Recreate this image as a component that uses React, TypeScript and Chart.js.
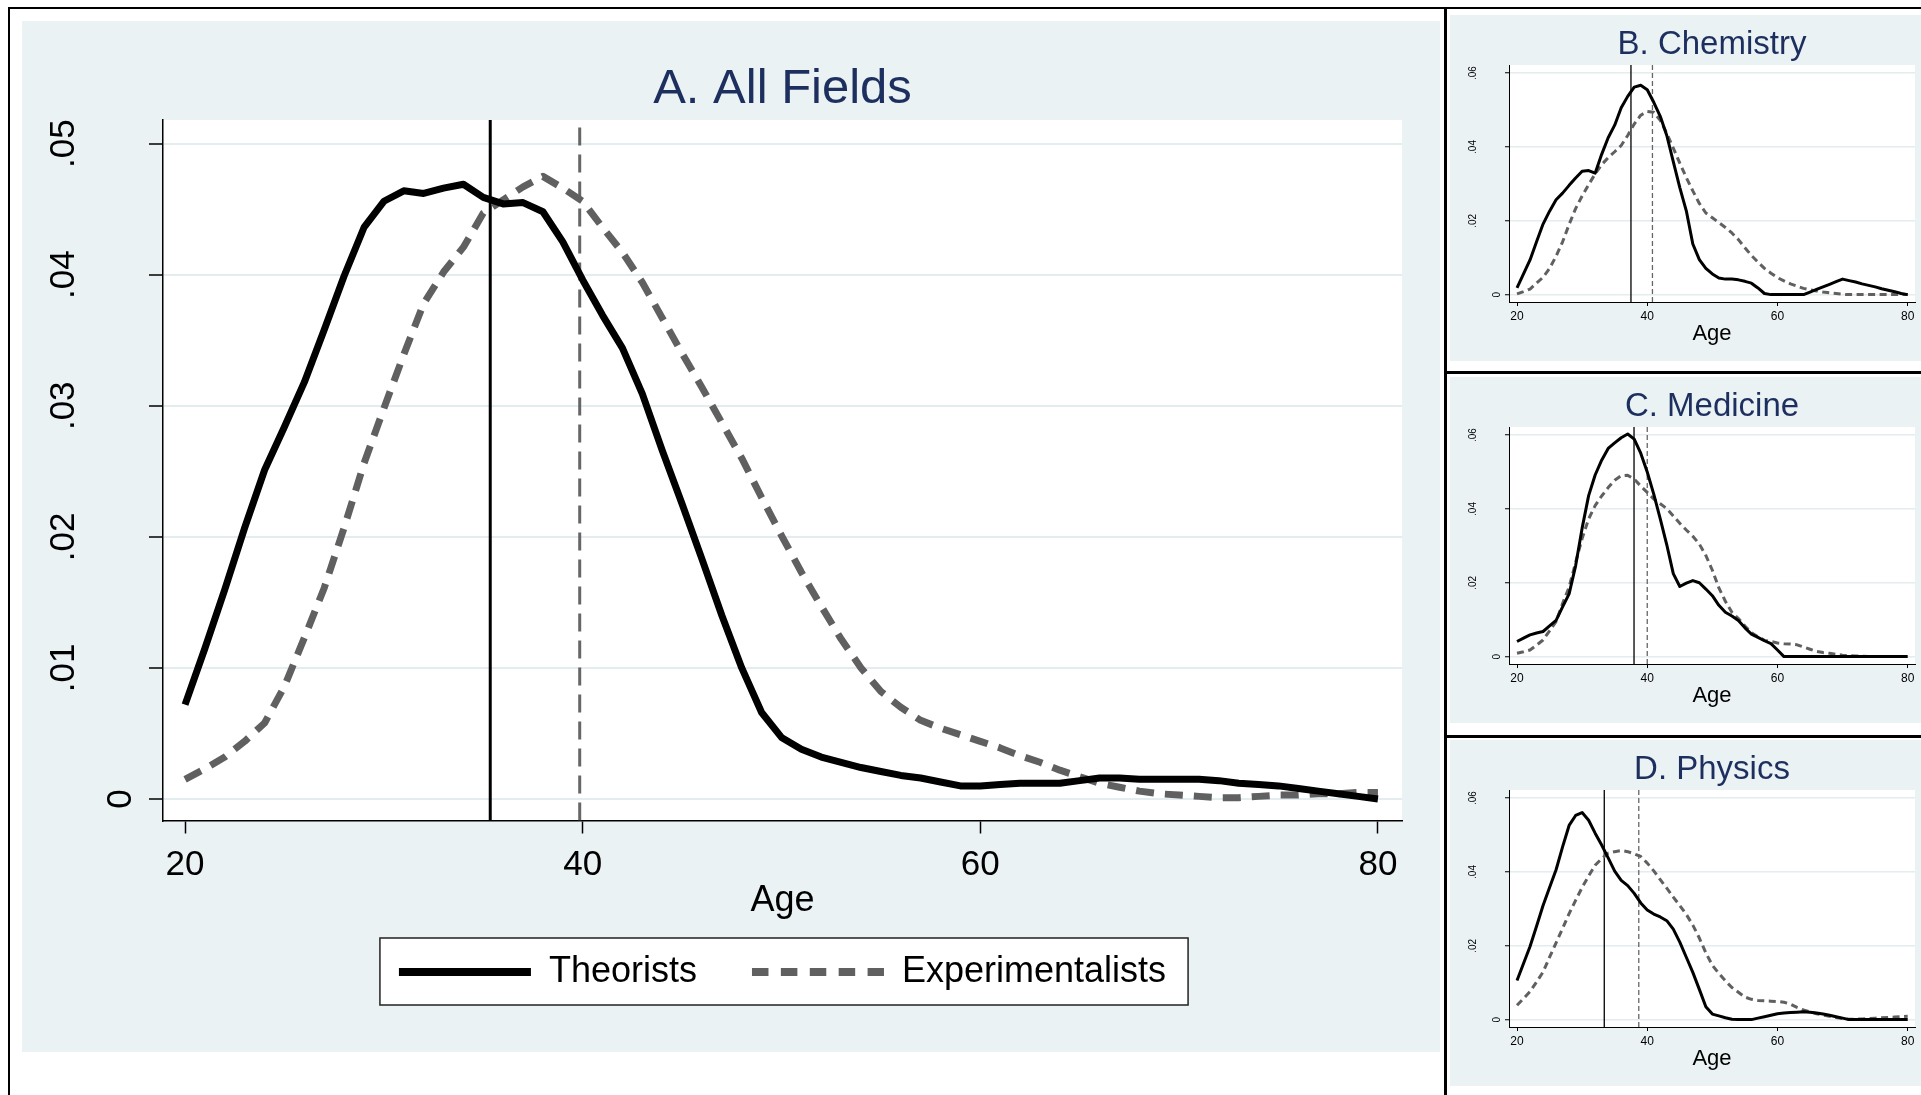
import React, { useEffect, useRef } from 'react';
import { Chart, registerables } from 'chart.js';

Chart.register(...registerables);

const FONT = "'Liberation Sans', Arial, Helvetica, sans-serif";
Chart.defaults.font.family = FONT;

const NAVY = '#1d2f5e';
const BG = '#eaf2f3';
const GRID = '#e3ecee';
const GRAY = '#606060';

// ---------- data ----------
const ages = [
  20, 21, 22, 23, 24, 25, 26, 27, 28, 29,
  30, 31, 32, 33, 34, 35, 36, 37, 38, 39,
  40, 41, 42, 43, 44, 45, 46, 47, 48, 49,
  50, 51, 52, 53, 54, 55, 56, 57, 58, 59,
  60, 61, 62, 63, 64, 65, 66, 67, 68, 69,
  70, 71, 72, 73, 74, 75, 76, 77, 78, 79, 80,
];

const allTheorists = [
  0.0072, 0.0115, 0.0160, 0.0207, 0.0251, 0.0284, 0.0318, 0.0358, 0.0399, 0.0436,
  0.0456, 0.0464, 0.0462, 0.0466, 0.0469, 0.0459, 0.0454, 0.0455, 0.0448, 0.0425,
  0.0396, 0.0369, 0.0344, 0.0309, 0.0266, 0.0225, 0.0183, 0.0140, 0.0100, 0.0066,
  0.0047, 0.0038, 0.0032, 0.0028, 0.0024, 0.0021, 0.0018, 0.0016, 0.0013, 0.0010,
  0.0010, 0.0011, 0.0012, 0.0012, 0.0012, 0.0014, 0.0016, 0.0016, 0.0015, 0.0015,
  0.0015, 0.0015, 0.0014, 0.0012, 0.0011, 0.0010, 0.0008, 0.0006, 0.0004, 0.0002, 0.0000,
];
const allExperimentalists = [
  0.0015, 0.0023, 0.0032, 0.0044, 0.0058, 0.0086, 0.0123, 0.0161, 0.0207, 0.0256,
  0.0298, 0.0339, 0.0378, 0.0402, 0.0421, 0.0447, 0.0457, 0.0467, 0.0475, 0.0466,
  0.0456, 0.0436, 0.0417, 0.0394, 0.0367, 0.0340, 0.0314, 0.0287, 0.0260, 0.0230,
  0.0201, 0.0173, 0.0147, 0.0122, 0.0100, 0.0082, 0.0070, 0.0060, 0.0054, 0.0049,
  0.0044, 0.0039, 0.0033, 0.0028, 0.0022, 0.0017, 0.0012, 0.0009, 0.0006, 0.0004,
  0.0003, 0.0002, 0.0001, 0.0001, 0.0002, 0.0003, 0.0003, 0.0004, 0.0004, 0.0005, 0.0005,
];
const allMeans = [35.35, 39.85];

const chemTheorists = [
  0.0018, 0.0056, 0.0094, 0.0143, 0.0191, 0.0226, 0.0257, 0.0275, 0.0296, 0.0316,
  0.0334, 0.0336, 0.0329, 0.0380, 0.0425, 0.0459, 0.0506, 0.0537, 0.0562, 0.0567,
  0.0555, 0.0521, 0.0483, 0.0431, 0.0360, 0.0290, 0.0227, 0.0137, 0.0095, 0.0071,
  0.0056, 0.0045, 0.0042, 0.0042, 0.0040, 0.0036, 0.0031, 0.0018, 0.0003, 0.0000,
  0.0000, 0.0000, 0.0000, 0.0000, 0.0000, 0.0007, 0.0014, 0.0021, 0.0028, 0.0035,
  0.0042, 0.0038, 0.0034, 0.0029, 0.0025, 0.0021, 0.0016, 0.0012, 0.0008, 0.0003, 0.0000,
];
const chemExperimentalists = [
  0.0002, 0.0008, 0.0015, 0.0031, 0.0047, 0.0071, 0.0104, 0.0143, 0.0190, 0.0233,
  0.0267, 0.0298, 0.0327, 0.0352, 0.0371, 0.0387, 0.0404, 0.0431, 0.0462, 0.0486,
  0.0496, 0.0494, 0.0472, 0.0437, 0.0397, 0.0356, 0.0317, 0.0281, 0.0247, 0.0221,
  0.0208, 0.0195, 0.0182, 0.0167, 0.0149, 0.0127, 0.0106, 0.0088, 0.0071, 0.0058,
  0.0046, 0.0037, 0.0029, 0.0023, 0.0017, 0.0013, 0.0010, 0.0007, 0.0005, 0.0003,
  0.0001, 0.0000, 0.0000, 0.0000, 0.0000, 0.0000, 0.0000, 0.0000, 0.0000, 0.0000, 0.0000,
];
const chemMeans = [37.5, 40.8];

const medTheorists = [
  0.0041, 0.0050, 0.0059, 0.0064, 0.0068, 0.0083, 0.0098, 0.0135, 0.0170, 0.0246,
  0.0348, 0.0436, 0.0492, 0.0532, 0.0564, 0.0579, 0.0593, 0.0603, 0.0589, 0.0551,
  0.0500, 0.0440, 0.0373, 0.0303, 0.0225, 0.0190, 0.0199, 0.0206, 0.0200, 0.0183,
  0.0165, 0.0139, 0.0120, 0.0110, 0.0098, 0.0078, 0.0061, 0.0052, 0.0043, 0.0035,
  0.0018, 0.0000, 0.0000, 0.0000, 0.0000, 0.0000, 0.0000, 0.0000, 0.0000, 0.0000,
  0.0000, 0.0000, 0.0000, 0.0000, 0.0000, 0.0000, 0.0000, 0.0000, 0.0000, 0.0000, 0.0000,
];
const medExperimentalists = [
  0.0009, 0.0013, 0.0018, 0.0031, 0.0045, 0.0070, 0.0095, 0.0144, 0.0188, 0.0255,
  0.0320, 0.0373, 0.0409, 0.0435, 0.0458, 0.0478, 0.0490, 0.0491, 0.0481, 0.0462,
  0.0445, 0.0427, 0.0414, 0.0401, 0.0381, 0.0361, 0.0343, 0.0326, 0.0305, 0.0274,
  0.0234, 0.0186, 0.0150, 0.0120, 0.0103, 0.0083, 0.0065, 0.0054, 0.0044, 0.0041,
  0.0037, 0.0035, 0.0034, 0.0032, 0.0026, 0.0020, 0.0014, 0.0011, 0.0009, 0.0006,
  0.0004, 0.0003, 0.0002, 0.0001, 0.0000, 0.0000, 0.0000, 0.0000, 0.0000, 0.0000, 0.0000,
];
const medMeans = [37.97, 40.0];

const physTheorists = [
  0.0106, 0.0152, 0.0198, 0.0253, 0.0309, 0.0358, 0.0406, 0.0468, 0.0526, 0.0553,
  0.0561, 0.0540, 0.0505, 0.0473, 0.0438, 0.0402, 0.0377, 0.0363, 0.0342, 0.0316,
  0.0297, 0.0286, 0.0278, 0.0268, 0.0245, 0.0210, 0.0169, 0.0128, 0.0082, 0.0035,
  0.0015, 0.0010, 0.0005, 0.0001, 0.0000, 0.0000, 0.0000, 0.0004, 0.0008, 0.0012,
  0.0016, 0.0018, 0.0019, 0.0020, 0.0021, 0.0020, 0.0018, 0.0015, 0.0012, 0.0008,
  0.0004, 0.0000, 0.0000, 0.0000, 0.0000, 0.0000, 0.0000, 0.0000, 0.0000, 0.0000, 0.0000,
];
const physExperimentalists = [
  0.0039, 0.0057, 0.0076, 0.0102, 0.0129, 0.0169, 0.0208, 0.0247, 0.0287, 0.0323,
  0.0358, 0.0389, 0.0418, 0.0436, 0.0451, 0.0455, 0.0458, 0.0455, 0.0449, 0.0442,
  0.0424, 0.0403, 0.0379, 0.0356, 0.0332, 0.0309, 0.0285, 0.0256, 0.0221, 0.0181,
  0.0147, 0.0125, 0.0105, 0.0087, 0.0074, 0.0061, 0.0055, 0.0052, 0.0051, 0.0050,
  0.0049, 0.0047, 0.0042, 0.0033, 0.0026, 0.0021, 0.0016, 0.0012, 0.0009, 0.0006,
  0.0003, 0.0001, 0.0001, 0.0002, 0.0003, 0.0004, 0.0005, 0.0006, 0.0007, 0.0008, 0.0009,
];
const physMeans = [33.4, 38.7];

const xTicks = [20, 40, 60, 80];
const xTickLabels = ['20', '40', '60', '80'];
const yTicksA = [0, 0.01, 0.02, 0.03, 0.04, 0.05];
const yTickLabelsA = ['0', '.01', '.02', '.03', '.04', '.05'];
const yTicksSmall = [0, 0.02, 0.04, 0.06];
const yTickLabelsSmall = ['0', '.02', '.04', '.06'];
const legendLabels = ['Theorists', 'Experimentalists'];
const panelTitles = ['A. All Fields', 'B. Chemistry', 'C. Medicine', 'D. Physics'];

// ---------- geometry ----------
type Geom = {
  w: number; h: number; padRight: number; padBottom: number;
  yAxisW: number; xAxisH: number;
  titleSize: number; titlePadTop: number; titlePadBottom: number;
  yTickFont: number; xTickFont: number; yTickPad: number; xTickPad: number; zeroLineHeight: number;
  yTickLen: number; xTickLen: number; ageFont: number; agePadBottom: number;
  lineW: number; dash: number[]; vW: number; vDash: number[]; gridW: number; axisW: number;
  xMin: number; xMax: number; yMin: number; yMax: number; legend: boolean;
};

const bigGeom: Geom = {
  w: 1418, h: 1031, padRight: 38, padBottom: 52,
  yAxisW: 141, xAxisH: 78.5,
  titleSize: 49, titlePadTop: 44, titlePadBottom: 6,
  yTickFont: 35, xTickFont: 35, yTickPad: 60.7, xTickPad: 10.5, zeroLineHeight: 3.26,
  yTickLen: 14, xTickLen: 13, ageFont: 36, agePadBottom: -23.3,
  lineW: 7, dash: [18, 11], vW: 3, vDash: [18, 9], gridW: 2, axisW: 1.5,
  xMin: 18.89, xMax: 81.21, yMin: -0.00164, yMax: 0.0518, legend: true,
};

const smallGeom: Geom = {
  w: 471, h: 346, padRight: 6, padBottom: 14,
  yAxisW: 59, xAxisH: 45,
  titleSize: 33, titlePadTop: 13.5, titlePadBottom: 3.5,
  yTickFont: 10, xTickFont: 12, yTickPad: 24.5, xTickPad: 3, zeroLineHeight: 4.8,
  yTickLen: 4, xTickLen: 4, ageFont: 22, agePadBottom: 0,
  lineW: 3, dash: [7, 4.5], vW: 1.3, vDash: [5, 3], gridW: 1.5, axisW: 1,
  xMin: 18.77, xMax: 81.12, yMin: -0.002, yMax: 0.0622, legend: false,
};

type Panel = { title: string; theorists: number[]; experimentalists: number[]; means: number[]; yTicks: number[]; yLabels: string[] };

const decorPlugin = {
  id: 'panelDecor',
  beforeDraw(chart: any, _args: any, opts: any) {
    const { ctx, chartArea } = chart;
    ctx.save();
    ctx.fillStyle = '#ffffff';
    ctx.fillRect(chartArea.left, chartArea.top, chartArea.right - chartArea.left, chartArea.bottom - chartArea.top);
    const lg = chart.legend;
    if (opts && opts.legendBox && lg && lg.options.display && lg.legendHitBoxes && lg.legendHitBoxes.length) {
      const hb = lg.legendHitBoxes;
      const first = hb[0];
      const last = hb[hb.length - 1];
      const cy = first.top + first.height / 2;
      const x0 = first.left - 19;
      const x1 = last.left + last.width + 22;
      const y0 = cy - 34;
      const y1 = cy + 33;
      ctx.fillStyle = '#ffffff';
      ctx.fillRect(x0, y0, x1 - x0, y1 - y0);
      ctx.strokeStyle = '#222222';
      ctx.lineWidth = 1.5;
      ctx.strokeRect(x0, y0, x1 - x0, y1 - y0);
    }
    ctx.restore();
  },
};

function makeConfig(p: Panel, g: Geom): any {
  const datasets = [
    {
      label: legendLabels[0],
      data: ages.map((a, i) => ({ x: a, y: p.theorists[i] })),
      borderColor: '#000000', borderWidth: g.lineW, pointRadius: 0, pointHoverRadius: 0,
      tension: 0, borderJoinStyle: 'round', borderCapStyle: 'butt', fill: false,
    },
    {
      label: legendLabels[1],
      data: ages.map((a, i) => ({ x: a, y: p.experimentalists[i] })),
      borderColor: GRAY, borderWidth: g.lineW, borderDash: g.dash, pointRadius: 0, pointHoverRadius: 0,
      tension: 0, borderJoinStyle: 'round', borderCapStyle: 'butt', fill: false,
    },
    {
      label: 'mean theorists',
      data: [{ x: p.means[0], y: g.yMin }, { x: p.means[0], y: g.yMax }],
      borderColor: '#000000', borderWidth: g.vW, pointRadius: 0, pointHoverRadius: 0, fill: false,
    },
    {
      label: 'mean experimentalists',
      data: [{ x: p.means[1], y: g.yMin }, { x: p.means[1], y: g.yMax }],
      borderColor: '#666666', borderWidth: g.vW, borderDash: g.vDash, pointRadius: 0, pointHoverRadius: 0, fill: false,
    },
  ];
  return {
    type: 'line',
    data: { datasets },
    plugins: [decorPlugin],
    options: {
      responsive: false,
      animation: false,
      devicePixelRatio: 1,
      events: [],
      layout: { padding: { left: 0, right: g.padRight, top: 0, bottom: g.padBottom } },
      scales: {
        x: {
          type: 'linear', min: g.xMin, max: g.xMax,
          afterBuildTicks: (s: any) => { s.ticks = xTicks.map((v) => ({ value: v })); },
          afterFit: (s: any) => { s.height = g.xAxisH; s.paddingLeft = 0; s.paddingRight = 0; },
          ticks: {
            autoSkip: false, maxRotation: 0, minRotation: 0, padding: g.xTickPad, color: '#000',
            font: { size: g.xTickFont },
            callback: (_v: any, i: number) => xTickLabels[i],
          },
          grid: { drawOnChartArea: false, drawTicks: true, tickLength: g.xTickLen, tickColor: '#000', tickWidth: g.axisW },
          border: { display: true, color: '#000', width: g.axisW },
          title: { display: true, text: 'Age', color: '#000', font: { size: g.ageFont }, padding: { top: 0, bottom: g.agePadBottom } },
        },
        y: {
          type: 'linear', min: g.yMin, max: g.yMax,
          afterBuildTicks: (s: any) => { s.ticks = p.yTicks.map((v) => ({ value: v })); },
          afterFit: (s: any) => { s.width = g.yAxisW; s.paddingTop = 0; s.paddingBottom = 0; },
          ticks: {
            autoSkip: false, minRotation: 90, maxRotation: 90, crossAlign: 'center', padding: g.yTickPad,
            color: '#000',
            font: (c: any) => ({ size: g.yTickFont, lineHeight: c.index === 0 ? g.zeroLineHeight : 1.2 }),
            callback: (_v: any, i: number) => (i === 0 ? ['', p.yLabels[i]] : p.yLabels[i]),
          },
          grid: { color: GRID, lineWidth: g.gridW, drawTicks: true, tickLength: g.yTickLen, tickColor: '#000', tickWidth: g.axisW },
          border: { display: true, color: '#000', width: g.axisW },
        },
      },
      plugins: {
        panelDecor: { legendBox: g.legend },
        tooltip: { enabled: false },
        title: {
          display: true, text: p.title, color: NAVY, fullSize: false, align: 'center',
          font: { size: g.titleSize, weight: 'normal', lineHeight: 1 },
          padding: { top: g.titlePadTop, bottom: g.titlePadBottom },
        },
        legend: {
          display: g.legend, position: 'bottom', fullSize: false, align: 'center',
          labels: {
            usePointStyle: true, pointStyleWidth: 132, boxHeight: 8, padding: 55, color: '#000',
            font: { size: 36 },
            generateLabels: () => legendLabels.map((text, i) => ({
              text,
              fillStyle: i === 0 ? '#000' : GRAY,
              strokeStyle: i === 0 ? '#000' : GRAY,
              lineWidth: 8,
              lineDash: i === 0 ? [] : [16.5, 12.4],
              lineCap: 'butt',
              pointStyle: 'line',
              hidden: false,
              datasetIndex: i,
              fontColor: '#000',
            })),
          },
        },
      },
    },
  };
}

function PanelChart(props: { panel: Panel; geom: Geom; left: number; top: number }) {
  const ref = useRef<HTMLCanvasElement | null>(null);
  useEffect(() => {
    if (!ref.current) return;
    const chart = new Chart(ref.current, makeConfig(props.panel, props.geom));
    return () => chart.destroy();
  }, []);
  return (
    <canvas
      ref={ref}
      width={props.geom.w}
      height={props.geom.h}
      style={{ position: 'absolute', left: props.left, top: props.top, width: props.geom.w, height: props.geom.h, background: BG }}
    />
  );
}

const panels: Panel[] = [
  { title: panelTitles[0], theorists: allTheorists, experimentalists: allExperimentalists, means: allMeans, yTicks: yTicksA, yLabels: yTickLabelsA },
  { title: panelTitles[1], theorists: chemTheorists, experimentalists: chemExperimentalists, means: chemMeans, yTicks: yTicksSmall, yLabels: yTickLabelsSmall },
  { title: panelTitles[2], theorists: medTheorists, experimentalists: medExperimentalists, means: medMeans, yTicks: yTicksSmall, yLabels: yTickLabelsSmall },
  { title: panelTitles[3], theorists: physTheorists, experimentalists: physExperimentalists, means: physMeans, yTicks: yTicksSmall, yLabels: yTickLabelsSmall },
];

export default function App() {
  useEffect(() => {
    document.body.style.margin = '0';
    document.body.style.overflow = 'hidden';
  }, []);
  const line = (l: number, t: number, w: number, h: number) => (
    <div style={{ position: 'absolute', left: l, top: t, width: w, height: h, background: '#000' }} />
  );
  return (
    <div style={{ position: 'absolute', left: 0, top: 0, width: 1921, height: 1095, background: '#fff', overflow: 'hidden' }}>
      <PanelChart panel={panels[0]} geom={bigGeom} left={22} top={21} />
      <PanelChart panel={panels[1]} geom={smallGeom} left={1450} top={15} />
      <PanelChart panel={panels[2]} geom={smallGeom} left={1450} top={377} />
      <PanelChart panel={panels[3]} geom={smallGeom} left={1450} top={740} />
      {line(8, 7, 1913, 2)}
      {line(8, 7, 2, 1088)}
      {line(1444, 7, 3, 1088)}
      {line(1444, 371, 477, 3)}
      {line(1444, 735, 477, 3)}
    </div>
  );
}
